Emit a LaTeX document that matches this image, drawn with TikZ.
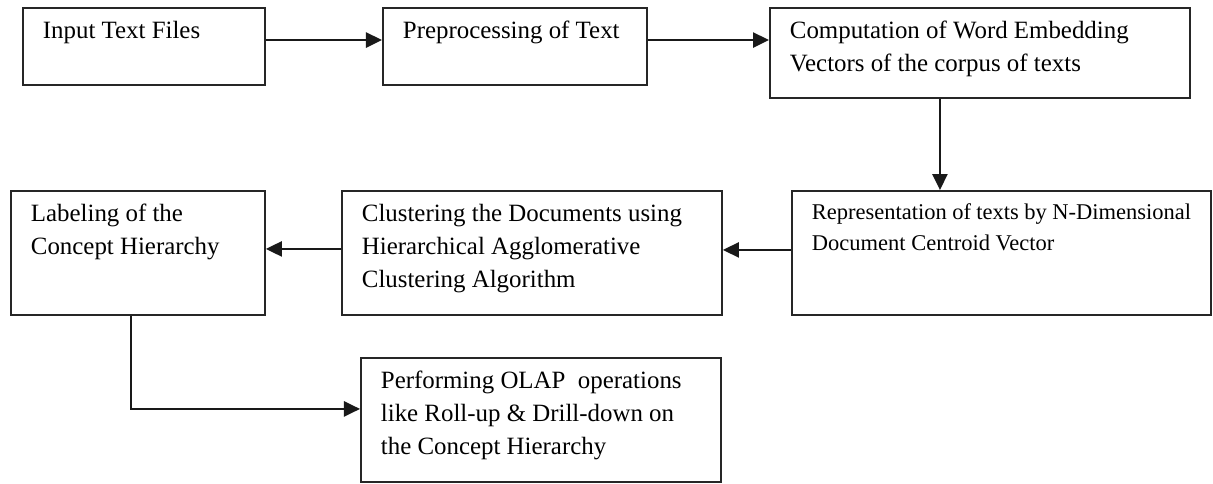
\documentclass[tikz,border=0pt]{standalone}
\usepackage{fontspec}
\setmainfont{Liberation Serif}
\usetikzlibrary{arrows.meta}

% fixed-size text block, text set from the top left
\newcommand{\stagetext}[3]{\parbox[t][#2][t]{#1}{\raggedright #3}}

\begin{document}
\begin{tikzpicture}[
    x=0.025cm, y=-0.025cm,
    stage/.style={draw=black!85, line width=1.3pt, anchor=north west,
      inner xsep=0.5cm, inner ysep=0.33cm,
      font=\fontsize{17.7}{23.5}\selectfont},
    flow/.style={draw=black!90, line width=1.3pt,
      -{Triangle[length=0.4cm, width=0.38cm]}}
  ]
  \useasboundingbox (0,0) rectangle (1213,483);
  % top row
  \node[stage] (input) at (22,7) {\stagetext{5.05cm}{1.265cm}{Input Text Files}};
  \node[stage] (prep) at (382,7) {\stagetext{5.6cm}{1.265cm}{Preprocessing of Text}};
  \node[stage] (comp) at (769,7) {\stagetext{9.5cm}{1.59cm}{Computation of Word Embedding\\
    Vectors of the corpus of texts}};
  % middle row
  \node[stage, font=\fontsize{16}{22}\selectfont] (repr) at (791,190)
    {\stagetext{9.475cm}{2.44cm}{Representation of texts by N-Dimensional\\
    Document Centroid Vector}};
  \node[stage] (clus) at (341,190) {\stagetext{8.5cm}{2.44cm}{Clustering the Documents using\\
    Hierarchical Agglomerative\\ Clustering Algorithm}};
  \node[stage] (label) at (10,190) {\stagetext{5.35cm}{2.44cm}{Labeling of the\\
    Concept Hierarchy}};
  % bottom row
  \node[stage] (olap) at (360,357) {\stagetext{8cm}{2.44cm}{Performing OLAP\ \ operations\\
    like Roll-up \& Drill-down on\\ the Concept Hierarchy}};

  \draw[flow] ([yshift=0.16cm]input.east) -- ([yshift=0.16cm]input.east -| prep.west);
  \draw[flow] ([yshift=0.16cm]prep.east) -- ([yshift=0.16cm]prep.east -| comp.west);
  \draw[flow] ([xshift=-1cm]comp.south) -- ([xshift=-1cm]comp.south |- repr.north);
  \draw[flow] ([yshift=0.075cm]repr.west) -- ([yshift=0.075cm]repr.west -| clus.east);
  \draw[flow] ([yshift=0.1cm]clus.west) -- ([yshift=0.1cm]clus.west -| label.east);
  \draw[flow] ([xshift=-0.175cm]label.south) |- ([yshift=0.275cm]olap.west);
\end{tikzpicture}
\end{document}
